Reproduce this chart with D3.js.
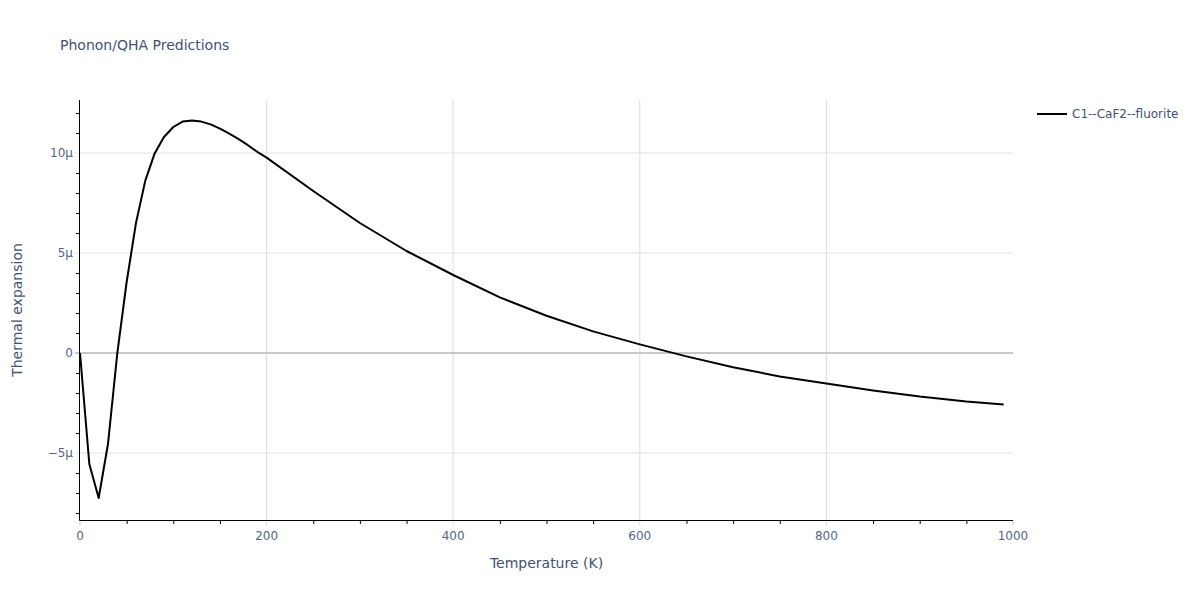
<!DOCTYPE html>
<html>
<head>
<meta charset="utf-8">
<script src="https://cdn.jsdelivr.net/npm/d3@7"></script>
<style>
  body { margin: 0; background: #fff; }
  svg { font-family: "DejaVu Sans", Verdana, sans-serif; }
</style>
</head>
<body>
<svg id="chart" width="1200" height="600"></svg>
<script>
// temperature (K) and thermal expansion (in units of 1e-6 / K)
const temperature = [0, 10, 20, 30, 40, 50, 60, 70, 80, 90, 100, 110, 120, 130, 140, 150, 160, 170, 180, 190, 200,
  250, 300, 350, 400, 450, 500, 550, 600, 650, 700, 750, 800, 850, 900, 950, 990];
const expansion = [0, -5.55, -7.25, -4.55, 0.0, 3.55, 6.5, 8.62, 9.98, 10.8, 11.3, 11.57, 11.63, 11.57, 11.43, 11.22, 10.97, 10.69, 10.39, 10.06, 9.77,
  8.1, 6.5, 5.1, 3.9, 2.78, 1.86, 1.08, 0.43, -0.17, -0.71, -1.17, -1.53, -1.87, -2.18, -2.43, -2.57];
const seriesName = "C1--CaF2--fluorite";
const xMajorTicks = [0, 200, 400, 600, 800, 1000];
const yMajorTicks = [-5, 0, 5, 10];

const svg = d3.select("#chart");
const margin = { top: 100, right: 187, bottom: 80, left: 80 };
const width = 1200 - margin.left - margin.right;
const height = 600 - margin.top - margin.bottom;

const x = d3.scaleLinear().domain([0, 1000]).range([margin.left, margin.left + width]);
const y = d3.scaleLinear().domain([-8.35, 12.65]).range([margin.top + height, margin.top]);

const textColor = "#3f5273";
const tickColor = "#506784";

// grid
const grid = svg.append("g");
grid.selectAll(".vgrid")
  .data(xMajorTicks.filter(d => d > 0 && d < 1000))
  .enter().append("line")
  .attr("x1", d => x(d)).attr("x2", d => x(d))
  .attr("y1", margin.top).attr("y2", margin.top + height + 5)
  .attr("stroke", "#dcdcdc").attr("stroke-width", 1);
grid.selectAll(".hgrid")
  .data(yMajorTicks.filter(d => d !== 0))
  .enter().append("line")
  .attr("x1", margin.left - 5).attr("x2", margin.left + width)
  .attr("y1", d => y(d)).attr("y2", d => y(d))
  .attr("stroke", "#e2e2e2").attr("stroke-width", 1);
// zero line
grid.append("line")
  .attr("x1", margin.left - 5).attr("x2", margin.left + width)
  .attr("y1", y(0)).attr("y2", y(0))
  .attr("stroke", "#c8c8c8").attr("stroke-width", 2);
grid.append("line")
  .attr("x1", x(0)).attr("x2", x(0))
  .attr("y1", margin.top + height).attr("y2", margin.top + height + 5)
  .attr("stroke", "#cccccc");
grid.append("line")
  .attr("x1", x(1000)).attr("x2", x(1000))
  .attr("y1", margin.top + height).attr("y2", margin.top + height + 5)
  .attr("stroke", "#cccccc");

// minor ticks
const xMinor = d3.range(50, 1000, 50).filter(d => d % 200 !== 0);
const yMinor = d3.range(-8, 13, 1).filter(d => d % 5 !== 0);

const xAxis = svg.append("g")
  .attr("transform", "translate(0," + (margin.top + height) + ")")
  .call(d3.axisBottom(x).tickValues(xMinor).tickSize(4).tickFormat(""));
xAxis.select(".domain").remove();
xAxis.selectAll("line").attr("stroke", "#000");

const yAxis = svg.append("g")
  .attr("transform", "translate(" + margin.left + ",0)")
  .call(d3.axisLeft(y).tickValues(yMinor).tickSize(4).tickFormat(""));
yAxis.select(".domain").remove();
yAxis.selectAll("line").attr("stroke", "#000");

// axis lines
svg.append("line")
  .attr("x1", margin.left - 0.5).attr("x2", margin.left - 0.5)
  .attr("y1", margin.top).attr("y2", margin.top + height + 0.5)
  .attr("stroke", "#000");
svg.append("line")
  .attr("x1", margin.left - 0.5).attr("x2", margin.left + width)
  .attr("y1", margin.top + height + 0.5).attr("y2", margin.top + height + 0.5)
  .attr("stroke", "#000");

// tick labels
svg.append("g").selectAll("text")
  .data(xMajorTicks)
  .enter().append("text")
  .attr("x", d => x(d)).attr("y", margin.top + height + 20)
  .attr("text-anchor", "middle")
  .attr("font-size", 12).attr("fill", tickColor)
  .text(d => d);

const fmtMicro = v => v === 0 ? "0" : (v < 0 ? "\u2212" : "") + Math.abs(v) + "\u03bc";
svg.append("g").selectAll("text")
  .data(yMajorTicks)
  .enter().append("text")
  .attr("x", margin.left - 7).attr("y", d => y(d) + 4)
  .attr("text-anchor", "end")
  .attr("font-size", 12).attr("fill", tickColor)
  .text(fmtMicro);

// series
const line = d3.line()
  .x((d, i) => x(temperature[i]))
  .y(d => y(d));
svg.append("path")
  .datum(expansion)
  .attr("d", line)
  .attr("fill", "none")
  .attr("stroke", "#000")
  .attr("stroke-width", 2)
  .attr("stroke-linejoin", "round");

// titles
svg.append("text")
  .attr("x", 60).attr("y", 50)
  .attr("font-size", 14).attr("fill", textColor)
  .text("Phonon/QHA Predictions");

svg.append("text")
  .attr("x", margin.left + width / 2).attr("y", 568)
  .attr("text-anchor", "middle")
  .attr("font-size", 14).attr("fill", textColor)
  .text("Temperature (K)");

svg.append("text")
  .attr("transform", "translate(22," + (margin.top + height / 2) + ") rotate(-90)")
  .attr("text-anchor", "middle")
  .attr("font-size", 14).attr("fill", textColor)
  .text("Thermal expansion");

// legend
const legend = svg.append("g").attr("transform", "translate(1037,114)");
legend.append("line")
  .attr("x1", 0).attr("x2", 30).attr("y1", 0).attr("y2", 0)
  .attr("stroke", "#000").attr("stroke-width", 2);
legend.append("text")
  .attr("x", 35).attr("y", 4)
  .attr("font-size", 12).attr("fill", textColor)
  .text(seriesName);
</script>
</body>
</html>
